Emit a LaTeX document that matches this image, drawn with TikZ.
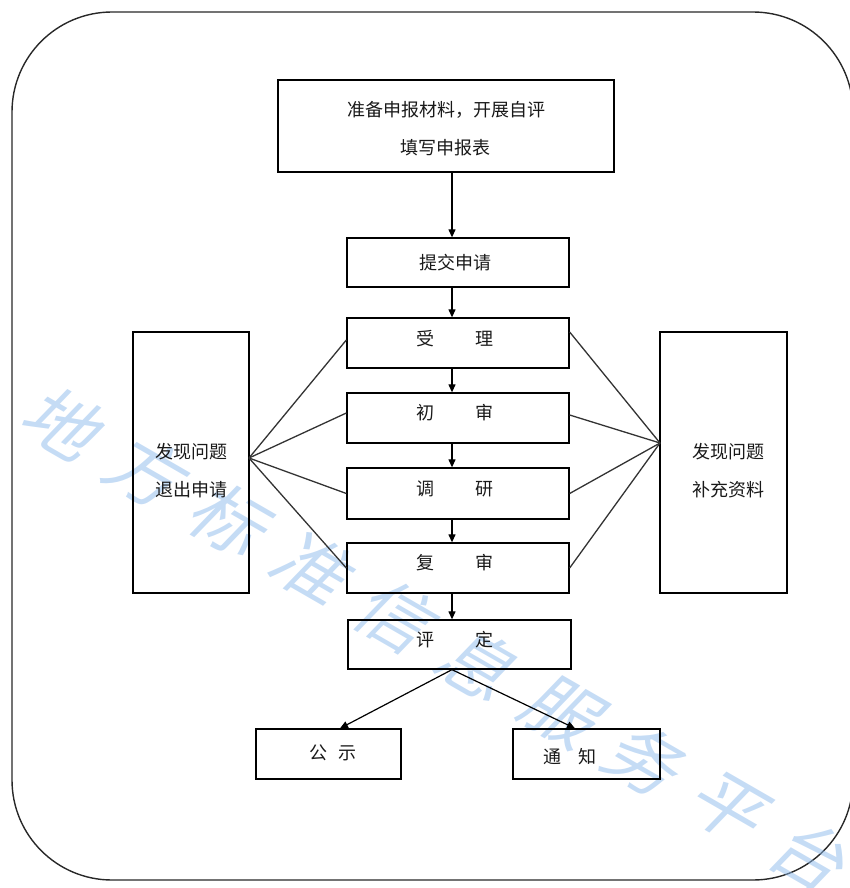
\documentclass[tikz,border=0pt]{standalone}
\usepackage{fontspec}
\setmainfont{Noto Sans CJK SC}
\usetikzlibrary{arrows.meta,calc}
\definecolor{wm}{RGB}{140,185,235}
\definecolor{frame}{RGB}{40,40,40}
\tikzset{
  box/.style={draw=black,line width=1.3pt,rectangle,inner sep=0pt},
  txt/.style={font=\fontsize{18}{18}\selectfont,inner sep=0pt,text=black!90},
  arr/.style={line width=1.2pt,-{Triangle[length=8pt,width=7pt]}},
  link/.style={line width=1.3pt,draw=black!80},
  wmk/.style={font=\fontsize{72}{72}\selectfont,text=wm,opacity=0.5,rotate=-30,xslant=0.25,inner sep=0pt}
}
\begin{document}
\begin{tikzpicture}[x=1pt,y=-1pt]
\useasboundingbox (0,0) rectangle (849,888);
% frame
\draw[frame,line width=1.4pt,rounded corners=100pt] (12,12) rectangle (853,880);
% watermark
\foreach \c [count=\i from 0] in {地,方,标,准,信,息,服,务,平,台}{
  \node[wmk] (wm\i) at ($(66,425)+\i*(83,48)$) {\c};
}
% boxes
\node[box,minimum width=336pt,minimum height=92pt] (top) at (446,126) {};
\node[box,minimum width=222pt,minimum height=49pt] (tj) at (458,262.5) {};
\node[box,minimum width=222pt,minimum height=50pt] (sl) at (458,343) {};
\node[box,minimum width=222pt,minimum height=50pt] (cs) at (458,418) {};
\node[box,minimum width=222pt,minimum height=51pt] (dy) at (458,493.5) {};
\node[box,minimum width=222pt,minimum height=50pt] (fs) at (458,568) {};
\node[box,minimum width=223pt,minimum height=49pt] (pd) at (459.5,644.5) {};
\node[box,minimum width=145pt,minimum height=50pt] (gs) at (328.5,754) {};
\node[box,minimum width=147pt,minimum height=50pt] (tz) at (586.5,754) {};
\node[box,minimum width=116pt,minimum height=261pt] (lb) at (191,462.5) {};
\node[box,minimum width=127pt,minimum height=261pt] (rb) at (723.5,462.5) {};
% texts
\node[txt] (t1) at (446.5,110) {准备申报材料，开展自评};
\node[txt] (t2) at (445,148) {填写申报表};
\node[txt] (t3) at (455,263) {提交申请};
\node[txt] (t4) at (455,339) {受\hspace{41pt}理};
\node[txt] (t5) at (455,413) {初\hspace{41pt}审};
\node[txt] (t6) at (455,489) {调\hspace{41pt}研};
\node[txt] (t7) at (455,563) {复\hspace{41pt}审};
\node[txt] (t8) at (455,640) {评\hspace{41pt}定};
\node[txt] (t9) at (333,753) {公\hspace{11pt}示};
\node[txt] (t10) at (570,757) {通\hspace{17pt}知};
\node[txt] (t11) at (191.5,452) {发现问题};
\node[txt] (t12) at (191.5,490) {退出申请};
\node[txt] (t13) at (728.5,452) {发现问题};
\node[txt] (t14) at (728.5,490) {补充资料};
% connector points
\coordinate (ax) at (452,0);
\coordinate (lp) at (249,458);
\coordinate (rp) at (660,443);
% vertical arrows
\draw[arr] (top.south -| ax) -- (tj.north -| ax);
\draw[arr] (tj.south -| ax) -- (sl.north -| ax);
\draw[arr] (sl.south -| ax) -- (cs.north -| ax);
\draw[arr] (cs.south -| ax) -- (dy.north -| ax);
\draw[arr] (dy.south -| ax) -- (fs.north -| ax);
\draw[arr] (fs.south -| ax) -- (pd.north -| ax);
% fan lines
\draw[link] (lp) -- ($(sl.west)+(0,-3)$);
\draw[link] (lp) -- ($(cs.west)+(0,-5)$);
\draw[link] (lp) -- (dy.west);
\draw[link] (lp) -- (fs.west);
\draw[link] (rp) -- ($(sl.east)+(0,-11)$);
\draw[link] (rp) -- ($(cs.east)+(0,-3)$);
\draw[link] (rp) -- (dy.east);
\draw[link] (rp) -- (fs.east);
% bottom arrows
\draw[arr] (pd.south -| ax) -- ($(gs.north)+(11.5,0)$);
\draw[arr] (pd.south -| ax) -- ($(tz.north)+(-11.5,0)$);
\end{tikzpicture}
\end{document}
